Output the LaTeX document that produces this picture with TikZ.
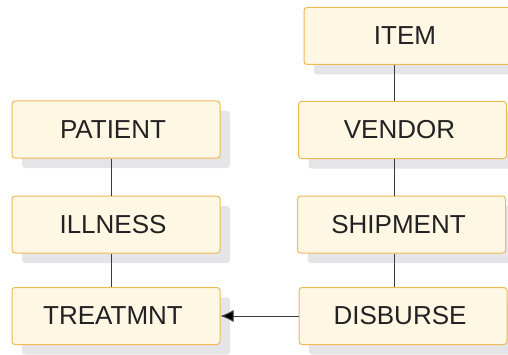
\documentclass[tikz,border=0pt]{standalone}
\usepackage{fontspec}
\setmainfont{Liberation Sans}
\usetikzlibrary{shadows,arrows.meta}
\definecolor{boxfill}{HTML}{FDF7E4}
\definecolor{boxdraw}{HTML}{F0B955}
\definecolor{shadowgray}{HTML}{E5E5E7}
\definecolor{txt}{HTML}{222222}
\definecolor{linec}{HTML}{3A3A3A}
\tikzset{
  entity/.style={draw=boxdraw, fill=boxfill, line width=1pt, rounded corners=3pt,
    minimum width=208pt, minimum height=57pt, inner sep=0pt, text=txt,
    font=\fontsize{26}{30}\selectfont, execute at end node=\hspace*{6pt},
    drop shadow={shadow xshift=10pt, shadow yshift=-10pt, fill=shadowgray, opacity=1}},
  link/.style={draw=linec, line width=1pt},
}
\begin{document}
\begin{tikzpicture}[x=1pt,y=1pt]
\useasboundingbox (0,0) rectangle (508,354);
\node[entity] (patient)  at (116,{354-129.5}) {PATIENT};
\node[entity] (illness)  at (116,{354-224.5}) {ILLNESS};
\node[entity] (treatmnt) at (116,{354-316}) {TREATMNT};
\node[entity] (item)     at (408,{354-36}) {ITEM};
\node[entity] (vendor)   at (402.5,{354-130}) {VENDOR};
\node[entity] (shipment) at (401.5,{354-224.5}) {SHIPMENT};
\node[entity] (disburse) at (403,{354-316}) {DISBURSE};
\coordinate (lx) at (111,0);
\coordinate (rx) at (394,0);
\draw[link] (patient.south -| lx) -- (illness.north -| lx);
\draw[link] (illness.south -| lx) -- (treatmnt.north -| lx);
\draw[link] (item.south -| rx) -- (vendor.north -| rx);
\draw[link] (vendor.south -| rx) -- (shipment.north -| rx);
\draw[link] (shipment.south -| rx) -- (disburse.north -| rx);
\draw[link, -{Latex[length=13pt,width=12pt,fill=black]}] (disburse.west) -- (treatmnt.east);
\end{tikzpicture}
\end{document}
